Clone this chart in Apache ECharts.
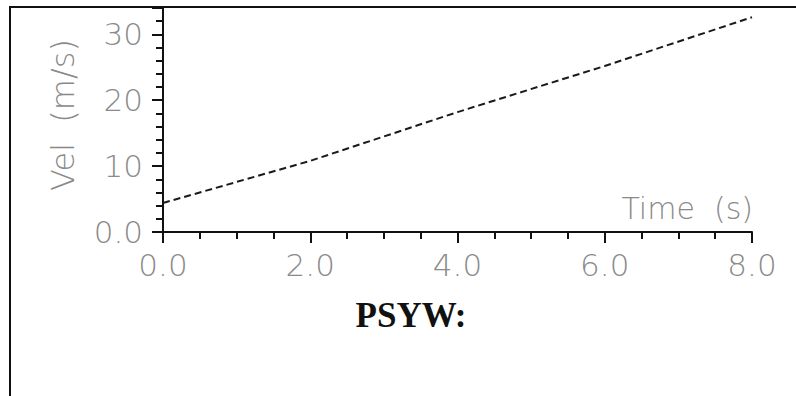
<!DOCTYPE html>
<html>
<head>
<meta charset="utf-8">
<script src="https://cdn.jsdelivr.net/npm/echarts@6/dist/echarts.min.js"></script>
<style>
html,body{margin:0;padding:0;background:#fff;}
#c{width:796px;height:396px;}
</style>
</head>
<body>
<div id="c"></div>
<script>
const timeValues = [0, 2, 4, 6, 8];
const velValues = [4.4, 10.8, 18.2, 25.2, 32.6];
const xTickLabels = ['0.0', '2.0', '4.0', '6.0', '8.0'];
const yTickLabels = ['0.0', '10', '20', '30'];
const yAxisTitle = 'Vel  (m/s)';
const xAxisTitle = 'Time  (s)';
const caption = 'PSYW:';

const chart = echarts.init(document.getElementById('c'), null, {renderer: 'svg'});
const labelFont = {color: '#8a8a8a', fontFamily: 'DejaVu Sans', fontWeight: 200, fontSize: 31};

chart.setOption({
  animation: false,
  backgroundColor: '#fff',
  grid: {left: 163, top: 8, right: 44, bottom: 164, containLabel: false},
  xAxis: {
    type: 'value', min: 0, max: 8, interval: 2,
    axisLine: {lineStyle: {color: '#111', width: 2}},
    axisTick: {inside: false, length: 11, lineStyle: {color: '#111', width: 2}},
    minorTick: {show: true, splitNumber: 4, length: 7, lineStyle: {color: '#111', width: 2}},
    splitLine: {show: false},
    axisLabel: Object.assign({margin: 17, formatter: v => xTickLabels[timeValues.indexOf(v)] ?? v.toFixed(1)}, labelFont)
  },
  yAxis: {
    type: 'value', min: 0, max: 34, interval: 10,
    axisLine: {lineStyle: {color: '#111', width: 2}},
    axisTick: {inside: false, length: 11, lineStyle: {color: '#111', width: 2}},
    minorTick: {show: true, splitNumber: 5, length: 7, lineStyle: {color: '#111', width: 2}},
    splitLine: {show: false},
    axisLabel: Object.assign({margin: 20, showMaxLabel: false, formatter: v => (v % 10 === 0 ? yTickLabels[v / 10] : '')}, labelFont)
  },
  series: [{
    type: 'line',
    data: timeValues.map((t, i) => [t, velValues[i]]),
    symbol: 'none',
    lineStyle: {color: '#1a1a1a', width: 2, type: [7, 4]}
  }],
  graphic: [
    {type: 'line', shape: {x1: 10, y1: 7, x2: 10, y2: 396}, style: {stroke: '#111', lineWidth: 2}, z: 10},
    {type: 'line', shape: {x1: 9, y1: 7, x2: 796, y2: 7}, style: {stroke: '#111', lineWidth: 2}, z: 10},
    {type: 'text', x: 63, y: 115, rotation: Math.PI / 2,
      style: {text: yAxisTitle, fill: '#8a8a8a', font: '200 32px "DejaVu Sans"', textAlign: 'center', textVerticalAlign: 'middle'}},
    {type: 'text', x: 753, y: 208,
      style: {text: xAxisTitle, fill: '#8a8a8a', font: '200 30px "DejaVu Sans"', textAlign: 'right', textVerticalAlign: 'middle'}},
    {type: 'text', x: 411, y: 315,
      style: {text: caption, fill: '#111', font: 'bold 35px "Liberation Serif"', textAlign: 'center', textVerticalAlign: 'middle'}}
  ]
});
</script>
</body>
</html>
